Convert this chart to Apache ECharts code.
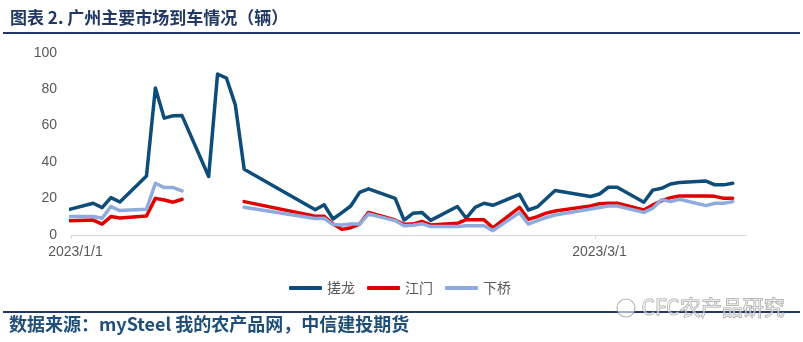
<!DOCTYPE html>
<html>
<head>
<meta charset="utf-8">
<script src="https://cdn.jsdelivr.net/npm/echarts@6/dist/echarts.min.js"></script>
<style>
  html, body { margin: 0; padding: 0; background: #fff; }
  #chart { width: 803px; height: 342px; }
</style>
</head>
<body>
<div id="chart"></div>
<script>
// Trading dates of the Guangzhou wholesale markets
const dates = [
  '2022-12-30', '2023-01-03', '2023-01-04', '2023-01-05', '2023-01-06',
  '2023-01-09', '2023-01-10', '2023-01-11', '2023-01-12', '2023-01-13',
  '2023-01-16', '2023-01-17', '2023-01-18', '2023-01-19', '2023-01-20',
  '2023-01-28', '2023-01-29', '2023-01-30', '2023-01-31', '2023-02-01',
  '2023-02-02', '2023-02-03', '2023-02-06', '2023-02-07', '2023-02-08',
  '2023-02-09', '2023-02-10', '2023-02-13', '2023-02-14', '2023-02-15',
  '2023-02-16', '2023-02-17', '2023-02-20', '2023-02-21', '2023-02-22',
  '2023-02-23', '2023-02-24', '2023-02-28', '2023-03-01', '2023-03-02',
  '2023-03-03', '2023-03-06', '2023-03-07', '2023-03-08', '2023-03-09',
  '2023-03-10', '2023-03-13', '2023-03-14', '2023-03-15', '2023-03-16'
];

// Vehicle arrivals (辆); null = no record that day
const cuolong = [
  12.4, 17.4, 15.0, 20.5, 18.1,
  32.4, 80.6, 64.1, 65.4, 65.5,
  32.1, 88.3, 86.1, 71.4, 36.1,
  13.9, 16.6, 8.8, 12.3, 15.9,
  23.4, 25.3, 20.1, 8.2, 11.9,
  12.4, 8.0, 15.6, 9.2, 15.2,
  17.4, 16.3, 22.3, 13.7, 15.4,
  19.9, 24.4, 21.1, 22.5, 26.2,
  26.2, 18.0, 24.6, 25.6, 28.0,
  28.8, 29.6, 27.5, 27.5, 28.4
];
const jiangmen = [
  7.7, 8.2, 6.0, 10.1, 9.3,
  10.4, 20.1, 19.2, 18.0, 19.6,
  null, null, null, null, 18.3,
  10.3, 10.3, 6.0, 3.1, 4.0,
  6.0, 12.4, 8.2, 5.9, 6.0,
  7.5, 5.5, 6.4, 8.4, 8.4,
  8.4, 3.9, 15.2, 8.6, 10.1,
  12.0, 13.2, 15.9, 17.2, 17.4,
  17.4, 13.7, 16.5, 18.7, 20.5,
  21.4, 21.4, 21.2, 20.1, 20.1
];
const xiaqiao = [
  10.1, 10.1, 9.2, 15.6, 13.4,
  14.1, 28.4, 26.0, 26.0, 24.2,
  null, null, null, null, 15.2,
  9.0, 9.2, 5.7, 5.5, 6.0,
  6.0, 11.5, 7.9, 5.1, 5.3,
  6.2, 4.6, 4.6, 5.1, 5.1,
  5.1, 2.4, 12.3, 6.0, 7.9,
  9.6, 11.0, 14.3, 15.1, 15.9,
  15.9, 12.4, 14.7, 19.4, 18.3,
  19.6, 16.1, 17.4, 17.4, 18.3
];

const seriesNames = ['搓龙', '江门', '下桥'];
const seriesColors = ['#0E4C7A', '#E00000', '#8FAADC'];
const xLabelDates = ['2023-01-01', '2023-03-01'];

// Dates are placed on a continuous day scale (milliseconds)
function ts(s, hour) {
  const p = s.split('-').map(Number);
  return new Date(p[0], p[1] - 1, p[2], hour || 0).getTime();
}
const DAY = 86400000;
const pairs = vals => dates.map((d, i) => [ts(d), vals[i] == null ? '-' : vals[i]]);
const fmtDate = v => {
  const d = new Date(v);
  return d.getFullYear() + '/' + (d.getMonth() + 1) + '/' + d.getDate();
};

const chart = echarts.init(document.getElementById('chart'), null, { renderer: 'canvas' });

const lineSeries = [cuolong, jiangmen, xiaqiao].map((vals, i) => ({
  name: seriesNames[i],
  type: 'line',
  data: pairs(vals),
  showSymbol: false,
  symbol: 'none',
  connectNulls: false,
  clip: true,
  color: seriesColors[i],
  lineStyle: { width: 3.5, color: seriesColors[i], cap: 'round', join: 'round' },
  emphasis: { disabled: true },
  z: 2 + i
}));

chart.setOption({
  animation: false,
  backgroundColor: '#ffffff',
  grid: { left: 71, right: 57, top: 52.7, bottom: 107, containLabel: false },
  xAxis: {
    type: 'value',
    min: ts('2022-12-31', 12),
    max: ts('2023-03-17', 12),
    axisLine: { show: true, onZero: false, lineStyle: { color: '#D9D9D9', width: 1 } },
    axisTick: {
      show: true,
      length: 4,
      lineStyle: { color: '#D9D9D9' },
      customValues: xLabelDates.map(d => ts(d) - DAY / 2)
    },
    axisLabel: {
      show: true,
      customValues: xLabelDates.map(d => ts(d)),
      formatter: fmtDate,
      color: '#595959',
      fontSize: 14,
      fontFamily: 'Liberation Sans',
      margin: 10
    },
    splitLine: { show: false }
  },
  yAxis: {
    type: 'value',
    min: 0,
    max: 100,
    interval: 20,
    axisLine: { show: false },
    axisTick: { show: false },
    splitLine: { show: false },
    axisLabel: {
      color: '#595959',
      fontSize: 14,
      fontFamily: 'Liberation Sans',
      margin: 14
    }
  },
  legend: {
    data: seriesNames,
    left: 284,
    top: 276,
    icon: 'roundRect',
    itemWidth: 33,
    itemHeight: 4,
    itemGap: 12,
    textStyle: { color: '#595959', fontSize: 14, fontFamily: 'Noto Sans CJK SC' }
  },
  series: lineSeries,
  graphic: [
    {
      type: 'text', left: 10, top: 9,
      style: {
        text: '图表 2. 广州主要市场到车情况（辆）',
        font: 'bold 17px "Noto Sans CJK SC"',
        fill: '#203864'
      }
    },
    {
      type: 'line', shape: { x1: 3, y1: 33, x2: 800, y2: 33 },
      style: { stroke: '#1F3864', lineWidth: 2 }
    },
    {
      type: 'line', shape: { x1: 3, y1: 312, x2: 800, y2: 312 },
      style: { stroke: '#1F3864', lineWidth: 2 }
    },
    {
      type: 'text', left: 9, top: 315,
      style: {
        text: '数据来源：mySteel 我的农产品网，中信建投期货',
        font: 'bold 18px "Noto Sans CJK SC"',
        fill: '#1F4E79'
      }
    },
    {
      type: 'circle', shape: { cx: 626, cy: 308, r: 9 },
      style: { fill: 'rgba(255,255,255,0.6)', stroke: 'rgba(150,150,150,0.7)', lineWidth: 1.2 }
    },
    {
      type: 'text', left: 641, top: 296,
      style: {
        text: 'CFC农产品研究',
        font: '21px "Noto Sans CJK SC"',
        fill: 'rgba(255,255,255,0.5)',
        stroke: 'rgba(130,130,130,0.75)',
        lineWidth: 1
      }
    }
  ]
});
</script>
</body>
</html>
